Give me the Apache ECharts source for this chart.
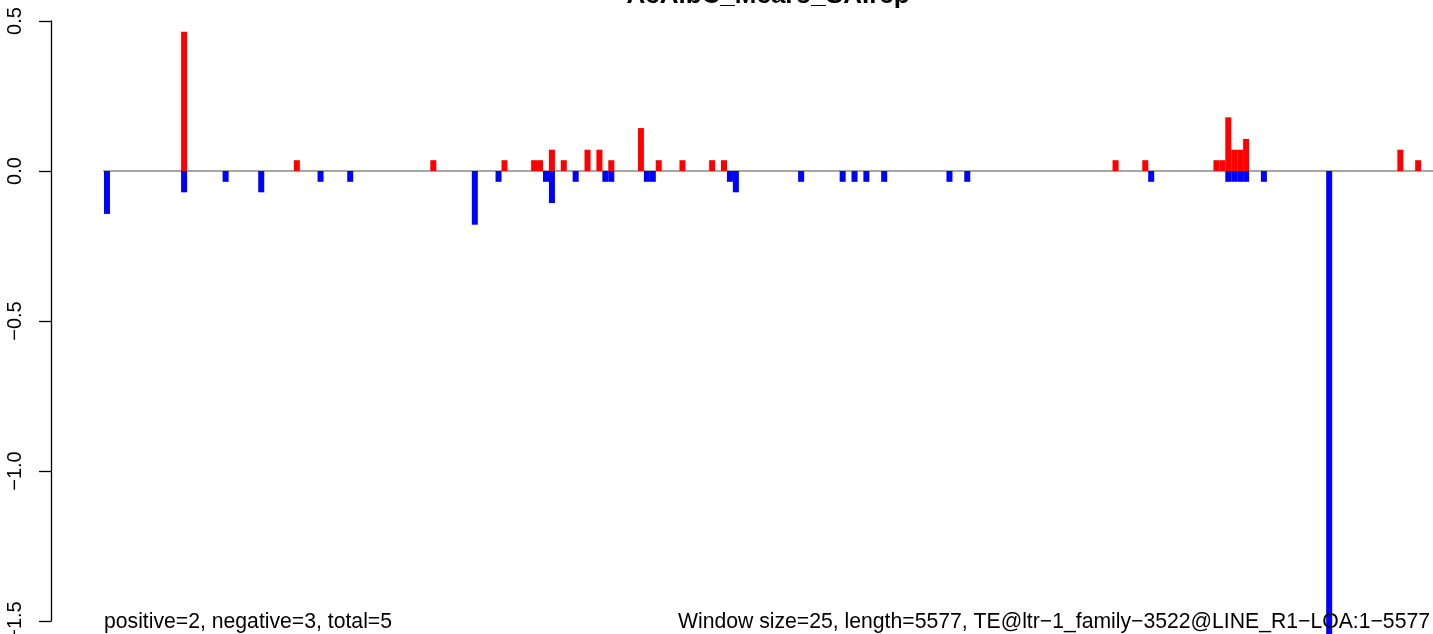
<!DOCTYPE html>
<html>
<head>
<meta charset="utf-8">
<script src="https://cdn.jsdelivr.net/npm/echarts@6/dist/echarts.min.js"></script>
<style>
html,body{margin:0;padding:0;background:#fff;overflow:hidden;}
#chart{width:1433px;height:634px;}
</style>
</head>
<body>
<div id="chart"></div>
<script>
// ---- data ----
const titleText = "AcAlbC_Mcaro_SA.rep";
const leftNote = "positive=2, negative=3, total=5";
const rightNote = "Window size=25, length=5577, TE@ltr\u22121_family\u22123522@LINE_R1\u2212LOA:1\u22125577";
const windowSize = 25;
const seqLength = 5577;
const windowCount = 224;
const yTicks = [-1.5, -1.0, -0.5, 0.0, 0.5];

// positive (red) windows: index and value
const posIdx = [13, 32, 55, 67, 72, 73, 75, 77, 81, 83, 85, 90, 93, 97, 102, 104, 170, 175, 187, 188, 189, 190, 191, 192, 218, 221];
const posVal = [0.464, 0.036, 0.036, 0.036, 0.036, 0.036, 0.071, 0.036, 0.071, 0.071, 0.036, 0.143, 0.036, 0.036, 0.036, 0.036, 0.036, 0.036, 0.036, 0.036, 0.179, 0.071, 0.071, 0.107, 0.071, 0.036];
// negative (blue) windows: index and value
const negIdx = [0, 13, 20, 26, 36, 41, 62, 66, 74, 75, 79, 84, 85, 91, 92, 105, 106, 117, 124, 126, 128, 131, 142, 145, 176, 189, 190, 191, 192, 195, 206];
const negVal = [-0.143, -0.071, -0.036, -0.071, -0.036, -0.036, -0.179, -0.036, -0.036, -0.107, -0.036, -0.036, -0.036, -0.036, -0.036, -0.036, -0.071, -0.036, -0.036, -0.036, -0.036, -0.036, -0.036, -0.036, -0.036, -0.036, -0.036, -0.036, -0.036, -0.036, -1.6];

// ---- build tables ----
const categories = [];
for (let i = 0; i < windowCount; i++) categories.push(String(i * windowSize + 1));
const posData = categories.map(() => null);
const negData = categories.map(() => null);
posIdx.forEach((k, j) => { posData[k] = posVal[j]; });
negIdx.forEach((k, j) => { negData[k] = negVal[j]; });

const chart = echarts.init(document.getElementById('chart'), null, {renderer: 'canvas'});
const fmt = v => v.toFixed(1).replace('-', '\u2212');

chart.setOption({
  animation: false,
  backgroundColor: '#ffffff',
  grid: {left: 104, right: 0, top: 21, bottom: 13, containLabel: false, outerBoundsMode: 'none'},
  xAxis: {
    type: 'category',
    data: categories,
    boundaryGap: true,
    axisLine: {show: true, onZero: true, lineStyle: {color: '#a6a6a6', width: 2}},
    axisTick: {show: false},
    axisLabel: {show: false},
    splitLine: {show: false}
  },
  yAxis: {
    type: 'value',
    min: yTicks[0],
    max: yTicks[yTicks.length - 1],
    interval: 0.5,
    offset: 53,
    axisLine: {show: true, lineStyle: {color: '#000', width: 1.3}},
    axisTick: {show: true, length: 12, lineStyle: {color: '#000', width: 1.3}},
    axisLabel: {
      show: true, rotate: 90, margin: 26,
      fontFamily: "'Liberation Sans Narrow', 'Liberation Sans', Arial, sans-serif",
      fontSize: 20, color: '#000',
      formatter: fmt
    },
    splitLine: {show: false}
  },
  series: [
    {
      name: 'positive', type: 'bar', data: posData, barWidth: 6, barGap: '-100%',
      itemStyle: {color: '#ff0000'}, clip: false, z: 3
    },
    {
      name: 'negative', type: 'bar', data: negData, barWidth: 6, barGap: '-100%',
      itemStyle: {color: '#0000ff'}, clip: false, z: 3
    }
  ],
  graphic: [
    {type: 'text', x: 768, y: -4, z: 10, style: {text: titleText, align: 'center', verticalAlign: 'middle',
      font: "bold 26px 'Liberation Sans', Arial, sans-serif", fill: '#000'}},
    {type: 'text', x: 104, y: 622, z: 10, style: {text: leftNote, align: 'left', verticalAlign: 'middle',
      font: "21.2px 'Liberation Sans', Arial, sans-serif", fill: '#000'}},
    {type: 'text', x: 1430, y: 622, z: 10, style: {text: rightNote, align: 'right', verticalAlign: 'middle',
      font: "21.2px 'Liberation Sans', Arial, sans-serif", fill: '#000'}}
  ]
});
</script>
</body>
</html>
